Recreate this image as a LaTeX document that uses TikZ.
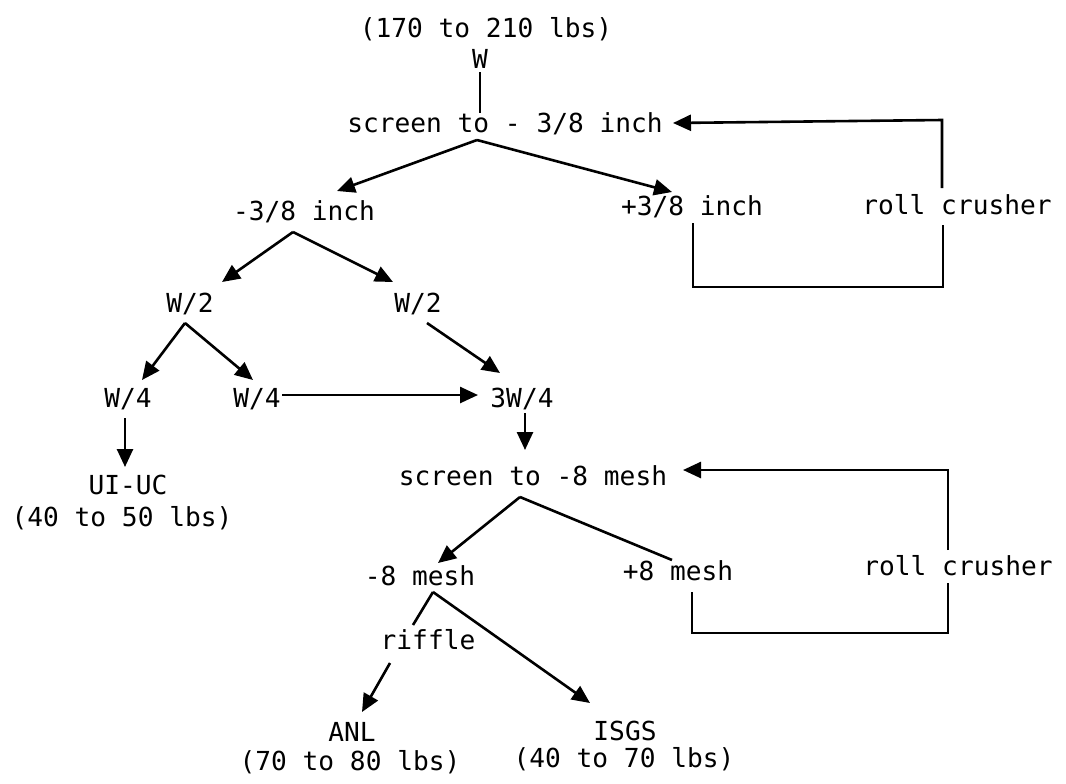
\documentclass[tikz,border=0pt]{standalone}
\usepackage{fontspec}
\newfontfamily\tw{DejaVu Sans Mono}
\usetikzlibrary{arrows.meta}
\begin{document}
\begin{tikzpicture}[x=0.5pt,y=-0.5pt,
  lbl/.style={inner sep=0pt,font=\tw\fontsize{13.1}{15}\selectfont,text height=0.73em,text depth=0pt,anchor=center},
  ln/.style={line width=1.3pt},
  arr/.style={ln,-{Triangle[length=9pt,width=8pt]}}]
\useasboundingbox (0,0) rectangle (1066,783);
% nodes
\node[lbl] (top) at (486,30) {(170 to 210 lbs)};
\node[lbl] (W) at (480,61) {W};
\node[lbl] (sc1) at (505,125) {screen to - 3/8 inch};
\node[lbl] (m38) at (304,213) {-3/8 inch};
\node[lbl] (p38) at (692,208) {+3/8 inch};
\node[lbl] (rc1) at (957,207) {roll crusher};
\node[lbl] (w2a) at (190,305) {W/2};
\node[lbl] (w2b) at (418,305) {W/2};
\node[lbl] (w4a) at (128,400) {W/4};
\node[lbl] (w4b) at (257,400) {W/4};
\node[lbl] (w34) at (522,400) {3W/4};
\node[lbl] (uiuc) at (128,487) {UI-UC};
\node[lbl] (uiucw) at (122,519) {(40 to 50 lbs)};
\node[lbl] (sc2) at (533,478) {screen to -8 mesh};
\node[lbl] (m8) at (420,578) {-8 mesh};
\node[lbl] (p8) at (678,573) {+8 mesh};
\node[lbl] (rc2) at (958,568) {roll crusher};
\node[lbl] (rif) at (428,642) {riffle};
\node[lbl] (anl) at (352,734) {ANL};
\node[lbl] (anlw) at (350,763) {(70 to 80 lbs)};
\node[lbl] (isgs) at (625,733) {ISGS};
\node[lbl] (isgsw) at (624,760) {(40 to 70 lbs)};
% connection points
\coordinate (Wb) at (480,72);
\coordinate (sc1t) at (480,113);
\coordinate (sc1b) at (477,140);
\coordinate (m38t) at (337,191);
\coordinate (p38t) at (672,192);
\coordinate (rc1t) at (942,188);
\coordinate (rc1c) at (942,120);
\coordinate (sc1r) at (673,123);
\coordinate (p38b) at (693,223);
\coordinate (p38c) at (693,287);
\coordinate (rc1d) at (943,287);
\coordinate (rc1b) at (943,225);
\coordinate (m38b) at (293,232);
\coordinate (w2at) at (222,282);
\coordinate (w2bt) at (393,282);
\coordinate (w2ab) at (185,323);
\coordinate (w4at) at (142,380);
\coordinate (w4bt) at (253,380);
\coordinate (w2bb) at (427,323);
\coordinate (w34t) at (500,373);
\coordinate (w4br) at (282,395);
\coordinate (w34l) at (478,395);
\coordinate (w4ab) at (125,418);
\coordinate (uiuct) at (125,467);
\coordinate (w34b) at (525,413);
\coordinate (sc2t) at (525,450);
\coordinate (sc2b) at (520,497);
\coordinate (m8t) at (438,563);
\coordinate (p8t) at (672,560);
\coordinate (rc2t) at (948,550);
\coordinate (rc2c) at (948,470);
\coordinate (sc2r) at (683,470);
\coordinate (p8b) at (692,592);
\coordinate (p8c) at (692,633);
\coordinate (rc2d) at (948,633);
\coordinate (rc2b) at (948,583);
\coordinate (m8b) at (433,592);
\coordinate (rift) at (413,625);
\coordinate (isgst) at (590,703);
\coordinate (rifb) at (390,663);
\coordinate (anlt) at (362,712);
% connectors
\draw[ln] (Wb) -- (sc1t);
\draw[arr] (sc1b) -- (m38t);
\draw[arr] (sc1b) -- (p38t);
\draw[arr] (rc1t) -- (rc1c) -- (sc1r);
\draw[ln] (p38b) -- (p38c) -- (rc1d) -- (rc1b);
\draw[arr] (m38b) -- (w2at);
\draw[arr] (m38b) -- (w2bt);
\draw[arr] (w2ab) -- (w4at);
\draw[arr] (w2ab) -- (w4bt);
\draw[arr] (w2bb) -- (w34t);
\draw[arr] (w4br) -- (w34l);
\draw[arr] (w4ab) -- (uiuct);
\draw[arr] (w34b) -- (sc2t);
\draw[arr] (sc2b) -- (m8t);
\draw[ln] (sc2b) -- (p8t);
\draw[arr] (rc2t) -- (rc2c) -- (sc2r);
\draw[ln] (p8b) -- (p8c) -- (rc2d) -- (rc2b);
\draw[ln] (m8b) -- (rift);
\draw[arr] (m8b) -- (isgst);
\draw[arr] (rifb) -- (anlt);
\end{tikzpicture}
\end{document}
